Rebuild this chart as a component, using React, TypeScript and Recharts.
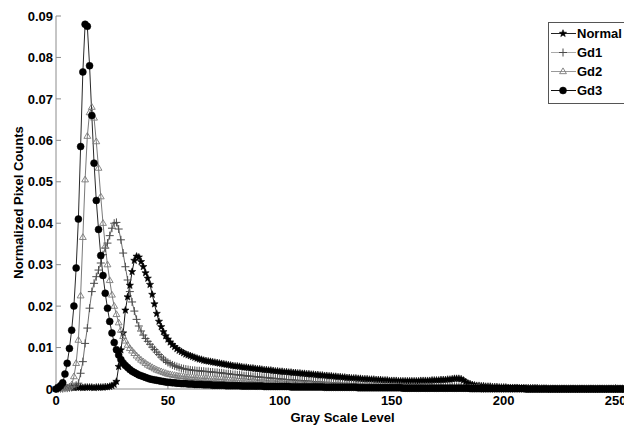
import React from 'react';
import { LineChart, Line, XAxis, YAxis } from 'recharts';

// Normalized pixel counts per gray level (0..255)
const normal = [
  0.0002,0.0003,0.0003,0.0003,0.0004,0.0003,0.0004,0.0004,0.0003,0.0004,
  0.0004,0.0004,0.0003,0.0004,0.0004,0.0004,0.0004,0.0003,0.0004,0.0004,
  0.0004,0.0004,0.0005,0.0005,0.0006,0.0008,0.0011,0.0018,0.0054,0.0094,
  0.0135,0.0190,0.0222,0.0250,0.0283,0.0310,0.0320,0.0318,0.0307,0.0295,
  0.0280,0.0267,0.0252,0.0228,0.0205,0.0182,0.0163,0.0150,0.0138,0.0128,
  0.0120,0.0113,0.0107,0.0102,0.0097,0.0093,0.0090,0.0087,0.0084,0.0082,
  0.0080,0.0078,0.0076,0.0074,0.0072,0.0071,0.0069,0.0068,0.0067,0.0066,
  0.0065,0.0064,0.0063,0.0062,0.0061,0.0060,0.0059,0.0058,0.0057,0.0056,
  0.0055,0.0055,0.0054,0.0053,0.0052,0.0052,0.0051,0.0050,0.0050,0.0049,
  0.0048,0.0048,0.0047,0.0046,0.0046,0.0045,0.0045,0.0044,0.0043,0.0043,
  0.0042,0.0042,0.0041,0.0041,0.0040,0.0040,0.0039,0.0039,0.0038,0.0038,
  0.0037,0.0037,0.0036,0.0036,0.0035,0.0035,0.0034,0.0034,0.0033,0.0033,
  0.0032,0.0032,0.0031,0.0031,0.0030,0.0030,0.0029,0.0029,0.0028,0.0028,
  0.0027,0.0027,0.0026,0.0026,0.0026,0.0025,0.0025,0.0024,0.0024,0.0024,
  0.0023,0.0023,0.0023,0.0022,0.0022,0.0022,0.0021,0.0021,0.0021,0.0020,
  0.0020,0.0020,0.0020,0.0019,0.0019,0.0019,0.0019,0.0019,0.0019,0.0019,
  0.0019,0.0019,0.0019,0.0020,0.0020,0.0020,0.0020,0.0020,0.0021,0.0021,
  0.0021,0.0021,0.0022,0.0022,0.0022,0.0023,0.0023,0.0024,0.0025,0.0025,
  0.0025,0.0024,0.0021,0.0017,0.0014,0.0012,0.0010,0.0009,0.0008,0.0008,
  0.0007,0.0007,0.0006,0.0006,0.0006,0.0005,0.0005,0.0005,0.0004,0.0004,
  0.0004,0.0004,0.0003,0.0003,0.0003,0.0003,0.0003,0.0002,0.0002,0.0002,
  0.0002,0.0002,0.0002,0.0002,0.0002,0.0002,0.0001,0.0001,0.0001,0.0001,
  0.0001,0.0001,0.0001,0.0001,0.0001,0.0001,0.0001,0.0001,0.0001,0.0001,
  0.0001,0.0001,0.0001,0.0001,0.0001,0.0001,0.0001,0.0001,0.0001,0.0001,
  0.0001,0.0001,0.0001,0.0001,0.0001,0.0001,0.0001,0.0001,0.0001,0.0001,
  0.0001,0.0001,0.0001,0.0001,0.0001,0.0001,
];

const gd1 = [
  0.0000,0.0001,0.0001,0.0001,0.0002,0.0002,0.0003,0.0004,0.0006,0.0009,
  0.0014,0.0038,0.0066,0.0110,0.0147,0.0195,0.0235,0.0255,0.0271,0.0287,
  0.0304,0.0324,0.0340,0.0352,0.0370,0.0388,0.0400,0.0402,0.0386,0.0360,
  0.0328,0.0295,0.0263,0.0235,0.0210,0.0188,0.0168,0.0152,0.0140,0.0130,
  0.0122,0.0115,0.0108,0.0101,0.0095,0.0089,0.0083,0.0077,0.0072,0.0068,
  0.0064,0.0061,0.0058,0.0056,0.0054,0.0052,0.0050,0.0049,0.0048,0.0047,
  0.0046,0.0045,0.0045,0.0044,0.0044,0.0043,0.0043,0.0042,0.0042,0.0041,
  0.0041,0.0040,0.0040,0.0039,0.0039,0.0038,0.0037,0.0037,0.0036,0.0035,
  0.0035,0.0034,0.0034,0.0033,0.0032,0.0032,0.0031,0.0031,0.0030,0.0030,
  0.0029,0.0029,0.0028,0.0028,0.0027,0.0027,0.0026,0.0026,0.0025,0.0025,
  0.0024,0.0024,0.0023,0.0023,0.0022,0.0022,0.0021,0.0021,0.0021,0.0020,
  0.0020,0.0019,0.0019,0.0019,0.0018,0.0018,0.0017,0.0017,0.0017,0.0016,
  0.0016,0.0016,0.0015,0.0015,0.0015,0.0014,0.0014,0.0014,0.0013,0.0013,
  0.0013,0.0012,0.0012,0.0012,0.0012,0.0011,0.0011,0.0011,0.0011,0.0010,
  0.0010,0.0010,0.0010,0.0010,0.0009,0.0009,0.0009,0.0009,0.0009,0.0008,
  0.0008,0.0008,0.0008,0.0008,0.0008,0.0007,0.0007,0.0007,0.0007,0.0007,
  0.0007,0.0007,0.0006,0.0006,0.0006,0.0006,0.0006,0.0006,0.0006,0.0006,
  0.0006,0.0006,0.0006,0.0006,0.0006,0.0006,0.0006,0.0006,0.0006,0.0006,
  0.0006,0.0005,0.0004,0.0004,0.0003,0.0003,0.0002,0.0002,0.0002,0.0002,
  0.0001,0.0001,0.0001,0.0001,0.0001,0.0001,0.0001,0.0001,0.0001,0.0001,
  0.0001,0.0001,0.0001,0.0001,0.0001,0.0001,0.0001,0.0001,0.0001,0.0001,
  0.0001,0.0001,0.0001,0.0001,0.0001,0.0001,0.0001,0.0001,0.0001,0.0001,
  0.0000,0.0000,0.0000,0.0000,0.0000,0.0000,0.0000,0.0000,0.0000,0.0000,
  0.0000,0.0000,0.0000,0.0000,0.0000,0.0000,0.0000,0.0000,0.0000,0.0000,
  0.0000,0.0000,0.0000,0.0000,0.0000,0.0000,0.0000,0.0000,0.0000,0.0000,
  0.0000,0.0000,0.0000,0.0000,0.0000,0.0000,
];

const gd2 = [
  0.0000,0.0000,0.0001,0.0001,0.0002,0.0003,0.0005,0.0010,0.0030,0.0062,
  0.0118,0.0225,0.0366,0.0505,0.0610,0.0667,0.0680,0.0654,0.0597,0.0533,
  0.0464,0.0400,0.0345,0.0300,0.0262,0.0227,0.0200,0.0180,0.0160,0.0142,
  0.0127,0.0116,0.0106,0.0098,0.0092,0.0086,0.0080,0.0075,0.0070,0.0066,
  0.0062,0.0058,0.0055,0.0052,0.0049,0.0046,0.0044,0.0042,0.0040,0.0038,
  0.0036,0.0035,0.0034,0.0033,0.0032,0.0031,0.0031,0.0030,0.0029,0.0029,
  0.0028,0.0028,0.0027,0.0027,0.0026,0.0026,0.0025,0.0025,0.0025,0.0024,
  0.0024,0.0024,0.0023,0.0023,0.0023,0.0022,0.0022,0.0022,0.0021,0.0021,
  0.0020,0.0020,0.0020,0.0019,0.0019,0.0019,0.0018,0.0018,0.0018,0.0017,
  0.0017,0.0017,0.0016,0.0016,0.0016,0.0015,0.0015,0.0015,0.0015,0.0014,
  0.0014,0.0014,0.0013,0.0013,0.0013,0.0013,0.0012,0.0012,0.0012,0.0012,
  0.0011,0.0011,0.0011,0.0011,0.0011,0.0010,0.0010,0.0010,0.0010,0.0010,
  0.0010,0.0009,0.0009,0.0009,0.0009,0.0009,0.0009,0.0009,0.0009,0.0009,
  0.0009,0.0008,0.0008,0.0008,0.0008,0.0008,0.0008,0.0008,0.0008,0.0008,
  0.0008,0.0007,0.0007,0.0007,0.0007,0.0007,0.0006,0.0006,0.0006,0.0006,
  0.0006,0.0006,0.0006,0.0006,0.0006,0.0005,0.0005,0.0005,0.0005,0.0005,
  0.0005,0.0005,0.0005,0.0005,0.0005,0.0004,0.0004,0.0004,0.0004,0.0004,
  0.0004,0.0004,0.0004,0.0004,0.0004,0.0003,0.0003,0.0003,0.0003,0.0003,
  0.0003,0.0003,0.0002,0.0002,0.0002,0.0002,0.0002,0.0002,0.0002,0.0002,
  0.0001,0.0001,0.0001,0.0001,0.0001,0.0001,0.0001,0.0001,0.0001,0.0001,
  0.0001,0.0001,0.0001,0.0001,0.0001,0.0001,0.0001,0.0001,0.0001,0.0001,
  0.0000,0.0000,0.0000,0.0000,0.0000,0.0000,0.0000,0.0000,0.0000,0.0000,
  0.0000,0.0000,0.0000,0.0000,0.0000,0.0000,0.0000,0.0000,0.0000,0.0000,
  0.0000,0.0000,0.0000,0.0000,0.0000,0.0000,0.0000,0.0000,0.0000,0.0000,
  0.0000,0.0000,0.0000,0.0000,0.0000,0.0000,0.0000,0.0000,0.0000,0.0000,
  0.0000,0.0000,0.0000,0.0000,0.0000,0.0000,
];

const gd3 = [
  0.0000,0.0003,0.0008,0.0015,0.0036,0.0062,0.0098,0.0142,0.0200,0.0292,
  0.0410,0.0585,0.0765,0.0880,0.0875,0.0780,0.0660,0.0545,0.0455,0.0385,
  0.0322,0.0274,0.0231,0.0195,0.0163,0.0135,0.0112,0.0095,0.0082,0.0071,
  0.0063,0.0057,0.0052,0.0047,0.0043,0.0040,0.0037,0.0034,0.0032,0.0030,
  0.0028,0.0026,0.0024,0.0023,0.0022,0.0021,0.0020,0.0019,0.0018,0.0017,
  0.0016,0.0016,0.0015,0.0015,0.0014,0.0014,0.0013,0.0013,0.0013,0.0012,
  0.0012,0.0012,0.0011,0.0011,0.0011,0.0011,0.0010,0.0010,0.0010,0.0010,
  0.0009,0.0009,0.0009,0.0009,0.0009,0.0009,0.0008,0.0008,0.0008,0.0008,
  0.0008,0.0008,0.0008,0.0007,0.0007,0.0007,0.0007,0.0007,0.0007,0.0007,
  0.0007,0.0007,0.0007,0.0006,0.0006,0.0006,0.0006,0.0006,0.0006,0.0006,
  0.0006,0.0006,0.0006,0.0006,0.0006,0.0005,0.0005,0.0005,0.0005,0.0005,
  0.0005,0.0005,0.0005,0.0005,0.0005,0.0005,0.0005,0.0005,0.0005,0.0005,
  0.0004,0.0004,0.0004,0.0004,0.0004,0.0004,0.0004,0.0004,0.0004,0.0004,
  0.0004,0.0004,0.0004,0.0004,0.0004,0.0003,0.0003,0.0003,0.0003,0.0003,
  0.0003,0.0003,0.0003,0.0003,0.0003,0.0003,0.0003,0.0003,0.0003,0.0003,
  0.0003,0.0003,0.0003,0.0003,0.0003,0.0002,0.0002,0.0002,0.0002,0.0002,
  0.0002,0.0002,0.0002,0.0002,0.0002,0.0002,0.0002,0.0002,0.0002,0.0002,
  0.0002,0.0002,0.0002,0.0002,0.0002,0.0002,0.0002,0.0002,0.0002,0.0002,
  0.0002,0.0002,0.0002,0.0002,0.0002,0.0001,0.0001,0.0001,0.0001,0.0001,
  0.0001,0.0001,0.0001,0.0001,0.0001,0.0001,0.0001,0.0001,0.0001,0.0001,
  0.0001,0.0001,0.0001,0.0001,0.0001,0.0001,0.0001,0.0001,0.0001,0.0001,
  0.0000,0.0000,0.0000,0.0000,0.0000,0.0000,0.0000,0.0000,0.0000,0.0000,
  0.0000,0.0000,0.0000,0.0000,0.0000,0.0000,0.0000,0.0000,0.0000,0.0000,
  0.0000,0.0000,0.0000,0.0000,0.0000,0.0000,0.0000,0.0000,0.0000,0.0000,
  0.0000,0.0000,0.0000,0.0000,0.0000,0.0000,0.0000,0.0000,0.0000,0.0000,
  0.0000,0.0000,0.0000,0.0000,0.0000,0.0000,
];

const grayLevels = normal.map((_, i) => i);
const xTicks = [0, 50, 100, 150, 200, 250];
const yTicks = [0, 0.01, 0.02, 0.03, 0.04, 0.05, 0.06, 0.07, 0.08, 0.09];

const data = grayLevels.map((g, i) => ({
  g,
  normal: normal[i],
  gd1: gd1[i],
  gd2: gd2[i],
  gd3: gd3[i],
}));

const FONT = "'Liberation Sans', Arial, Helvetica, sans-serif";
const AXIS_COLOR = '#8c8c8c';

function StarShape({ cx, cy, r = 3.8 }: any) {
  if (cx == null || cy == null) return null;
  const pts: string[] = [];
  for (let k = 0; k < 10; k++) {
    const rad = k % 2 === 0 ? r : r * 0.42;
    const a = -Math.PI / 2 + (k * Math.PI) / 5;
    pts.push(`${cx + rad * Math.cos(a)},${cy + rad * Math.sin(a)}`);
  }
  return <polygon points={pts.join(' ')} fill="#000" stroke="#000" strokeWidth={0.6} />;
}

function PlusShape({ cx, cy, r = 4 }: any) {
  if (cx == null || cy == null) return null;
  return (
    <g stroke="#4a4a4a" strokeWidth={1}>
      <line x1={cx - r} y1={cy} x2={cx + r} y2={cy} />
      <line x1={cx} y1={cy - r} x2={cx} y2={cy + r} />
    </g>
  );
}

function TriShape({ cx, cy, r = 3.6 }: any) {
  if (cx == null || cy == null) return null;
  const pts = `${cx},${cy - r} ${cx + r * 0.95},${cy + r * 0.6} ${cx - r * 0.95},${cy + r * 0.6}`;
  return <polygon points={pts} fill="none" stroke="#7a7a7a" strokeWidth={0.9} />;
}

function CircleShape({ cx, cy, r = 3.5 }: any) {
  if (cx == null || cy == null) return null;
  return <circle cx={cx} cy={cy} r={r} fill="#000" stroke="#000" strokeWidth={0.5} />;
}

const series = [
  { key: 'normal', name: 'Normal', stroke: '#1a1a1a', legendStroke: '#222', Shape: StarShape },
  { key: 'gd1', name: 'Gd1', stroke: '#6e6e6e', legendStroke: '#aaa', Shape: PlusShape },
  { key: 'gd2', name: 'Gd2', stroke: '#7a7a7a', legendStroke: '#999', Shape: TriShape },
  { key: 'gd3', name: 'Gd3', stroke: '#2a2a2a', legendStroke: '#111', Shape: CircleShape },
];

function LegendBox() {
  return (
    <div
      style={{
        position: 'absolute',
        left: 548,
        top: 22,
        right: -40,
        borderTop: '1px solid #555',
        borderLeft: '1px solid #555',
        borderBottom: '1px solid #555',
        background: '#fff',
        padding: '1px 0 3px 0',
        fontFamily: FONT,
        fontWeight: 'bold',
        fontSize: 13,
        color: '#000',
      }}
    >
      {series.map((s) => {
        const Shape = s.Shape;
        return (
          <div key={s.key} style={{ display: 'flex', alignItems: 'center', height: 19 }}>
            <svg width={28} height={19} style={{ display: 'block', flex: 'none' }}>
              <line x1={2} y1={9.5} x2={27} y2={9.5} stroke={s.legendStroke} strokeWidth={1} />
              <Shape cx={14} cy={9.5} />
            </svg>
            <span style={{ lineHeight: '19px', whiteSpace: 'nowrap' }}>{s.name}</span>
          </div>
        );
      })}
    </div>
  );
}

const tickStyle = { fill: '#000', fontSize: 13, fontWeight: 'bold', fontFamily: FONT };

export default function App() {
  return (
    <div
      style={{
        position: 'fixed',
        left: 0,
        top: 0,
        width: 624,
        height: 425,
        overflow: 'hidden',
        background: '#fff',
      }}
    >
      <LineChart
        width={640}
        height={425}
        data={data}
        margin={{ top: 16, right: 11, bottom: 0, left: 0 }}
      >
        <XAxis
          dataKey="g"
          type="number"
          domain={[0, 256]}
          ticks={xTicks}
          interval={0}
          height={36}
          tickSize={-5}
          tickMargin={12}
          stroke={AXIS_COLOR}
          tick={tickStyle}
          label={{
            value: 'Gray Scale Level',
            position: 'insideBottom',
            offset: 3,
            style: { fill: '#000', fontSize: 13, fontWeight: 'bold', fontFamily: FONT },
          }}
        />
        <XAxis
          xAxisId="top"
          orientation="top"
          dataKey="g"
          type="number"
          domain={[0, 256]}
          ticks={xTicks}
          interval={0}
          height={0}
          tickSize={-5}
          tick={false}
          stroke={AXIS_COLOR}
        />
        <YAxis
          type="number"
          domain={[0, 0.09]}
          ticks={yTicks}
          interval={0}
          width={56}
          tickSize={-5}
          tickMargin={8}
          stroke={AXIS_COLOR}
          tick={tickStyle}
          label={{
            content: (props: any) => {
              const vb = props.viewBox || { x: 0, y: 16, width: 56, height: 373 };
              const cx = vb.x + 18;
              const cy = vb.y + vb.height / 2;
              return (
                <text
                  x={cx}
                  y={cy}
                  transform={`rotate(-90 ${cx} ${cy})`}
                  textAnchor="middle"
                  dominantBaseline="central"
                  fill="#000"
                  fontSize={13}
                  fontWeight="bold"
                  fontFamily={FONT}
                >
                  Normalized Pixel Counts
                </text>
              );
            },
          }}
        />
        <YAxis
          yAxisId="right"
          orientation="right"
          type="number"
          domain={[0, 0.09]}
          ticks={yTicks}
          interval={0}
          width={0}
          tickSize={-5}
          tick={false}
          stroke={AXIS_COLOR}
        />
        {series.map((s) => {
          const Shape = s.Shape;
          return (
            <Line
              key={s.key}
              dataKey={s.key}
              name={s.name}
              type="linear"
              stroke={s.stroke}
              strokeWidth={1}
              isAnimationActive={false}
              dot={(p: any) => <Shape key={`${s.key}-${p.index}`} cx={p.cx} cy={p.cy} />}
              activeDot={false}
            />
          );
        })}
      </LineChart>
      <LegendBox />
    </div>
  );
}
